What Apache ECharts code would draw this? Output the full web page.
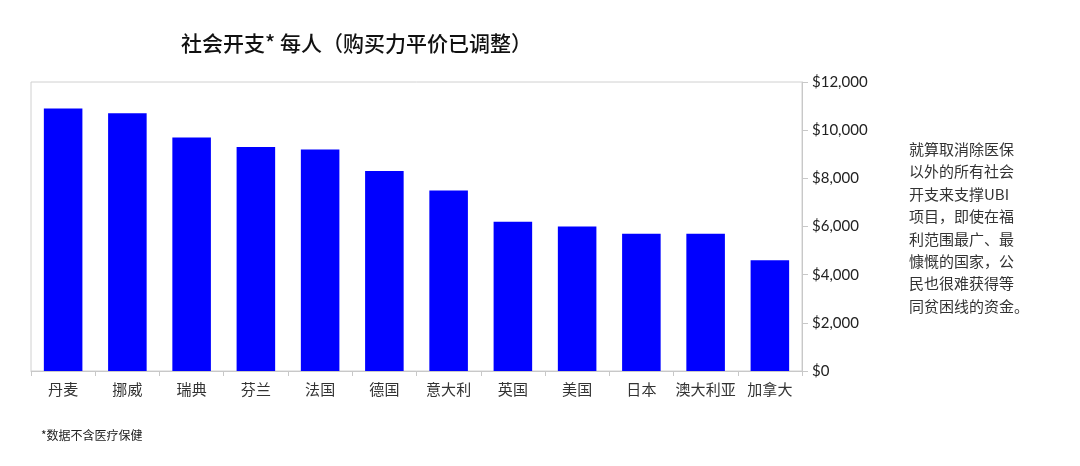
<!DOCTYPE html>
<html>
  <head>
    <title>社会开支</title>
    <meta charset="utf-8" />
    <script src="https://cdn.jsdelivr.net/npm/echarts@6/dist/echarts.min.js"></script>
    <style>
      html, body { margin: 0; padding: 0; background: #fff; }
    </style>
  </head>
  <body>
    <div id="main" style="width: 1080px;height:466px;"></div>
    <script type="text/javascript">
    // countries and spending per person (PPP adjusted, USD)
    var countries = ['丹麦', '挪威', '瑞典', '芬兰', '法国', '德国', '意大利', '英国', '美国', '日本', '澳大利亚', '加拿大'];
    var spending = [10900, 10700, 9700, 9300, 9200, 8300, 7500, 6200, 6000, 5700, 5700, 4600];

    var titleText = '社会开支* 每人（购买力平价已调整）';
    var noteLines = ['就算取消除医保', '以外的所有社会', '开支来支撑UBI', '项目，即使在福', '利范围最广、最', '慷慨的国家，公', '民也很难获得等', '同贫困线的资金。'];
    var footnote = '*数据不含医疗保健';

    var cjk = '"Noto Sans CJK SC", "Noto Sans", sans-serif';

    var myChart = echarts.init(document.getElementById('main'));

    var option = {
      backgroundColor: '#fff',
      animation: false,
      title: [
        {
          text: titleText,
          left: 176,
          top: 28,
          textStyle: { fontFamily: cjk, fontSize: 21, fontWeight: 500, color: '#111' }
        },
        {
          text: noteLines.join('\n'),
          left: 904,
          top: 133,
          textStyle: { fontFamily: cjk, fontSize: 15, fontWeight: 'normal', color: '#333', lineHeight: 22.4 }
        },
        {
          text: footnote,
          left: 36,
          top: 424,
          textStyle: { fontFamily: cjk, fontSize: 12, fontWeight: 'normal', color: '#222' }
        }
      ],
      grid: {
        left: 31,
        right: 278,
        top: 82,
        bottom: 95,
        show: true,
        borderColor: '#d0d0d0',
        borderWidth: 1
      },
      xAxis: {
        type: 'category',
        data: countries,
        axisLine: { lineStyle: { color: '#c8c8c8' } },
        axisTick: { show: true, alignWithLabel: false, length: 5, lineStyle: { color: '#c8c8c8' } },
        axisLabel: { fontFamily: cjk, fontSize: 15, color: '#333', margin: 11, interval: 0 }
      },
      yAxis: {
        type: 'value',
        position: 'right',
        min: 0,
        max: 12000,
        interval: 2000,
        splitLine: { show: false },
        axisLine: { show: true, lineStyle: { color: '#c8c8c8' } },
        axisTick: { show: true, length: 6, lineStyle: { color: '#c8c8c8' } },
        axisLabel: {
          fontFamily: 'Lato, "Noto Sans", sans-serif',
          fontSize: 15,
          color: '#222',
          margin: 10,
          formatter: function (v) { return '$' + v.toLocaleString('en-US'); }
        }
      },
      series: [
        {
          type: 'bar',
          data: spending,
          barWidth: '60%',
          itemStyle: { color: '#0000ff' }
        }
      ]
    };

    myChart.setOption(option);
    </script>
  </body>
</html>
